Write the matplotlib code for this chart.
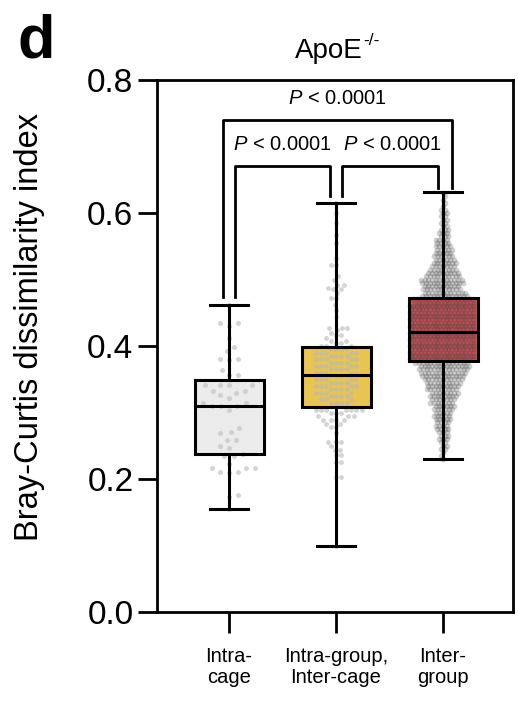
import numpy as np
import matplotlib
matplotlib.use('Agg')
import matplotlib.pyplot as plt

plt.rcParams['font.family'] = ['Liberation Sans', 'DejaVu Sans']
plt.rcParams['mathtext.fontset'] = 'custom'
plt.rcParams['mathtext.rm'] = 'Liberation Sans'
plt.rcParams['mathtext.it'] = 'Liberation Sans:italic'

# ---- data ----
groups = ['Intra-\ncage', 'Intra-group,\nInter-cage', 'Inter-\ngroup']
box_colors = ['#ebebeb', '#e8c452', '#e0555a']

# box stats: min, q1, median, q3, max
q1 = [0.238, 0.308, 0.377]
med = [0.310, 0.356, 0.421]
q3 = [0.349, 0.398, 0.472]
wlo = [0.155, 0.099, 0.230]
whi = [0.462, 0.615, 0.632]

# individual points, Intra-cage
intra_cage = [0.462, 0.434, 0.434, 0.430, 0.412, 0.399, 0.392, 0.380, 0.380, 0.379,
              0.364, 0.356, 0.356, 0.341, 0.341, 0.341, 0.341, 0.333, 0.333, 0.330,
              0.326, 0.322, 0.314, 0.314, 0.310, 0.310, 0.310, 0.304, 0.277, 0.271,
              0.269, 0.259, 0.259, 0.249, 0.246, 0.238, 0.234, 0.234, 0.223, 0.217,
              0.217, 0.217, 0.211, 0.211, 0.209, 0.176, 0.173, 0.155]

# Intra-group, Inter-cage: value levels and how many points sit at each
ig_levels = [0.615, 0.600, 0.585, 0.567, 0.555, 0.532, 0.522, 0.505, 0.499, 0.492,
             0.487, 0.486, 0.480, 0.472, 0.462, 0.454, 0.443, 0.427, 0.424, 0.420,
             0.416, 0.412, 0.408, 0.405, 0.400,
             0.395, 0.390, 0.385, 0.380, 0.375, 0.370, 0.365, 0.360, 0.355, 0.350,
             0.345, 0.340, 0.335, 0.330, 0.325, 0.320, 0.315,
             0.304, 0.299, 0.294, 0.289, 0.283, 0.278, 0.269, 0.256, 0.250, 0.244,
             0.236, 0.226, 0.203, 0.099]
ig_counts = [1, 1, 1, 1, 1, 1, 2, 1, 1, 2,
             1, 2, 1, 2, 1, 1, 1, 3, 1, 1,
             2, 1, 2, 2, 3,
             4, 5, 4, 5, 4, 5, 4, 5, 4, 5,
             4, 5, 4, 4, 4, 3, 4,
             7, 3, 3, 4, 2, 2, 1, 3, 1, 2,
             2, 2, 2, 1]

# Inter-group: dense cloud, counts per 0.005 step starting at 0.230
ing_start = 0.230
ing_step = 0.005
ing_counts = [1, 1, 1, 2, 2, 2, 3, 3, 3, 4, 4, 4, 5, 5, 5, 6, 6, 7, 7, 8,
              8, 9, 9, 10, 11, 12, 13, 14, 14, 15,
              18, 18, 18, 18, 18, 18, 18, 18, 18,
              18, 18, 18, 18, 18, 18, 18, 18, 17, 17,
              13, 12, 11, 10, 12, 12, 10, 9, 8, 7, 7, 6, 6, 5, 5, 5, 4, 4, 3, 3,
              3, 2, 2, 2, 2, 2, 2, 1, 1, 1, 1, 1]

yticks = [0.0, 0.2, 0.4, 0.6, 0.8]

ig_vals = np.repeat(ig_levels, ig_counts)
ing_vals = np.repeat(ing_start + ing_step * np.arange(len(ing_counts)), ing_counts)
points = [np.array(intra_cage), ig_vals, ing_vals]


def swarm(ypix, d):
    """Beeswarm x offsets (pixels) for y values given in pixels."""
    xs = np.zeros(len(ypix))
    px, py = [], []
    for k, i in enumerate(np.argsort(ypix, kind='stable')):
        y = ypix[i]
        near = [(a, b) for a, b in zip(px, py) if abs(b - y) < d]
        cands = [0.0]
        for a, b in near:
            dx = np.sqrt(d * d - (b - y) ** 2)
            cands += [a - dx, a + dx]
        sgn = 1 if k % 2 else -1
        cands.sort(key=lambda c: (round(abs(c), 3), sgn * c))
        for c in cands:
            if all((c - a) ** 2 + (y - b) ** 2 >= d * d - 1e-6 for a, b in near):
                xs[i] = c
                break
        px.append(xs[i])
        py.append(y)
    return xs


fig = plt.figure(figsize=(5.18, 7.02), dpi=100)
ax = fig.add_axes([157 / 518, 90 / 702, 356 / 518, 532 / 702])
ax.set_xlim(-0.673, 2.654)
ax.set_ylim(0, 0.8)

pos = [0, 1, 2]
stats = [dict(med=med[i], q1=q1[i], q3=q3[i], whislo=wlo[i], whishi=whi[i], fliers=[])
         for i in range(3)]

# box fills underneath the points
fill = ax.bxp(stats, positions=pos, widths=0.645, patch_artist=True, showfliers=False,
              boxprops=dict(edgecolor='none'), whiskerprops=dict(linestyle='none'),
              capprops=dict(linestyle='none'), medianprops=dict(linestyle='none'))
for patch, c in zip(fill['boxes'], box_colors):
    patch.set_facecolor(c)
    patch.set_zorder(1)

# points
fig.canvas.draw()
ppu_x = ax.transData.transform((1, 0))[0] - ax.transData.transform((0, 0))[0]
ppu_y = ax.transData.transform((0, 1))[1] - ax.transData.transform((0, 0))[1]
dists = [9.0, 5.4, 3.7]
dot_cols = ['#c4c4c4', '#b8b8b8', '#404040']
dot_alpha = [0.7, 0.6, 0.25]
dot_size = [13, 12, 17]
for i, vals in enumerate(points):
    off = swarm(vals * ppu_y, dists[i]) / ppu_x
    ax.scatter(pos[i] + off, vals, s=dot_size[i], color=dot_cols[i], alpha=dot_alpha[i],
               linewidths=0, zorder=2)

# box outlines on top
ax.bxp(stats, positions=pos, widths=0.645, capwidths=0.35, patch_artist=True,
       showfliers=False,
       boxprops=dict(facecolor='none', edgecolor='black', linewidth=2.2),
       whiskerprops=dict(color='black', linewidth=2.2),
       capprops=dict(color='black', linewidth=2.2),
       medianprops=dict(color='black', linewidth=2.2), zorder=3)

# significance brackets
def bracket(x1, x2, y1, y2, top, label, tx):
    ax.plot([x1, x1, x2, x2], [y1, top, top, y2], color='black', lw=2,
            clip_on=False, zorder=4)
    ax.text(tx, top + 0.018, label, ha='center', va='bottom', fontsize=14.5)

plab = r'$\mathit{P}$ < 0.0001'
bracket(-0.056, 2.084, whi[0] + 0.012, whi[2] + 0.006, 0.740, plab, 1.01)
bracket(0.056, 0.944, whi[0] + 0.012, whi[1] + 0.011, 0.671, plab, 0.495)
bracket(1.056, 1.953, whi[1] + 0.011, whi[2] + 0.006, 0.671, plab, 1.523)

# axes styling
for s in ax.spines.values():
    s.set_linewidth(2)
ax.set_yticks(yticks)
ax.set_yticklabels(['%.1f' % t for t in yticks])
ax.set_xticks(pos)
ax.set_xticklabels(groups, fontsize=14.5, linespacing=1.12)
ax.tick_params(axis='y', length=14, width=2, pad=3, labelsize=24)
ax.tick_params(axis='x', length=15, width=2, pad=10)

# title with hyphen superscript
fig.text(363 / 518, 1 - 58 / 702, 'ApoE', fontsize=20, ha='right', va='baseline')
fig.text(363 / 518, 1 - 45 / 702, '-/-', fontsize=12.5, ha='left', va='baseline')
fig.text(30 / 518, 1 - 327 / 702, 'Bray-Curtis dissimilarity index', rotation=90,
         ha='center', va='center', fontsize=23.5)
fig.text(17 / 518, 1 - 57 / 702, 'd', fontsize=44, fontweight='bold', va='baseline')

fig.savefig('out.png', dpi=100)
